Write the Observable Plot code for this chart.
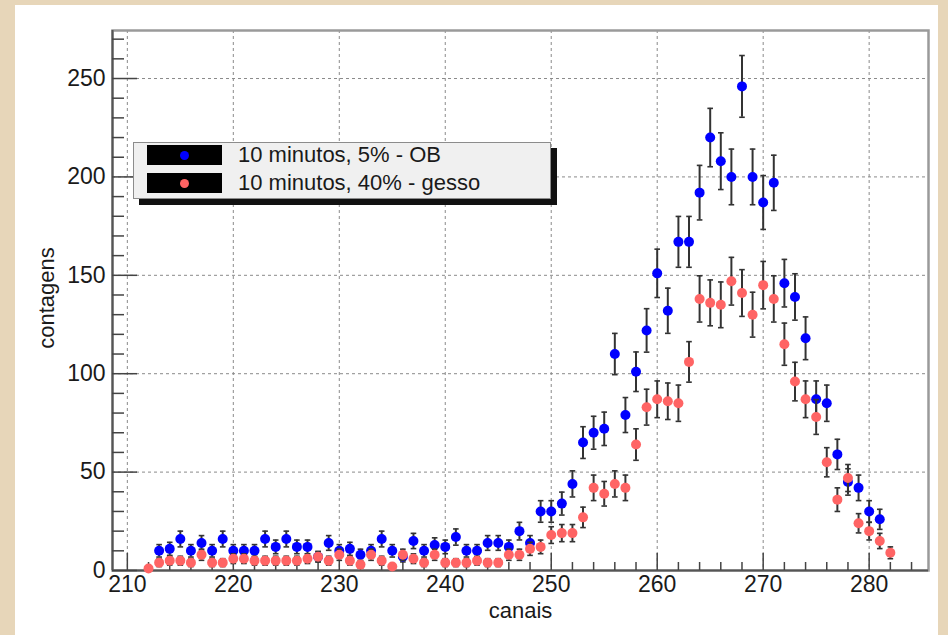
<!DOCTYPE html>
<html>
<head>
<meta charset="utf-8">
<script src="https://cdn.jsdelivr.net/npm/d3@7"></script>
<script src="https://cdn.jsdelivr.net/npm/@observablehq/plot@0.6"></script>
<style>
html, body { margin: 0; padding: 0; }
body { background: #e7d6b9; width: 948px; height: 635px; overflow: hidden; position: relative;
       font-family: "Liberation Sans", Arial, Helvetica, sans-serif; }
#panel { position: absolute; left: 15px; top: 5px; width: 923px; height: 630px; background: #fff; }
#legend { position: absolute; left: 133px; top: 142px; width: 416px; height: 55px;
          background: #f0f0f0; border: 1px solid #8c8c8c; box-shadow: 6px 6px 0 #111; }
.sw { position: absolute; left: 13px; width: 75px; height: 20px; background: #000; }
.sw span { position: absolute; left: 33px; top: 6px; width: 9px; height: 9px; border-radius: 50%; }
.lt { position: absolute; left: 104px; height: 20px; line-height: 20px; font-size: 22px; color: #1a1a1a; white-space: nowrap; }
#ytitle { position: absolute; left: 47px; top: 298px; transform: translate(-50%, -50%) rotate(-90deg);
          font-size: 22px; color: #1a1a1a; white-space: nowrap; line-height: 1; }
</style>
</head>
<body>
<div id="panel"></div>
<div id="legend"></div>
<div id="ytitle"></div>
<script>
// ---- data ----
const channels = [212,213,214,215,216,217,218,219,220,221,222,223,224,225,226,227,228,229,230,
  231,232,233,234,235,236,237,238,239,240,241,242,243,244,245,246,247,248,249,250,
  251,252,253,254,255,256,257,258,259,260,261,262,263,264,265,266,267,268,269,270,
  271,272,273,274,275,276,277,278,279,280,281,282];
const countsOB = [null,10,11,16,10,14,10,16,10,10,10,16,12,16,12,12,7,14,10,
  11,8,10,16,10,7,15,10,13,12,17,10,10,14,14,12,20,14,30,30,
  34,44,65,70,72,110,79,101,122,151,132,167,167,192,220,208,200,246,200,187,
  197,146,139,118,87,85,59,45,42,30,26,null];
const countsGesso = [1,4,5,5,4,8,4,4,6,6,5,5,5,5,5,6,7,5,8,
  5,3,8,5,2,8,6,4,8,4,4,4,5,4,4,8,8,11,12,18,
  19,19,27,42,39,44,42,64,83,87,86,85,106,138,136,135,147,141,130,145,
  138,115,96,87,78,55,36,47,24,20,15,9];
const seriesNames = ["10 minutos, 5% - OB", "10 minutos, 40% - gesso"];
const seriesColors = ["#0000ff", "#ff6464"];
const xTicksMajor = [210,220,230,240,250,260,270,280];
const xTicksMinor = [212,214,216,218,222,224,226,228,232,234,236,238,242,244,246,248,252,254,256,258,262,264,266,268,272,274,276,278,282,284];
const yTicksMajor = [0,50,100,150,200,250];
const yTicksMinor = [10,20,30,40,60,70,80,90,110,120,130,140,160,170,180,190,210,220,230,240,260,270];
const xDomain = [208.6, 285.6];
const yDomain = [0, 274.4];
const xTitle = "canais";
const yTitle = "contagens";

// ---- layout ----
const W = 923, H = 630, mL = 97, mT = 25, mR = 10, mB = 65;
const fw = W - mL - mR, fh = H - mT - mB;

function rows(counts) {
  return channels.map((c, i) => ({c, v: counts[i]})).filter(d => d.v != null)
    .map(d => ({...d, lo: d.v - Math.sqrt(d.v), hi: d.v + Math.sqrt(d.v)}));
}
const dataOB = rows(countsOB);
const dataGesso = rows(countsGesso);

const cap = {draw(ctx, size) { const w = Math.sqrt(size / Math.PI); ctx.moveTo(-w, 0); ctx.lineTo(w, 0); }};

function seriesMarks(data, color) {
  return [
    Plot.ruleX(data, {x: "c", y1: "lo", y2: "hi", stroke: "#333", strokeWidth: 2}),
    Plot.dot(data, {x: "c", y: "hi", symbol: cap, r: 2.8, stroke: "#333", strokeWidth: 1.6, fill: "none"}),
    Plot.dot(data, {x: "c", y: "lo", symbol: cap, r: 2.8, stroke: "#333", strokeWidth: 1.6, fill: "none"}),
    Plot.dot(data, {x: "c", y: "v", r: 5, fill: color, stroke: "none"})
  ];
}

const chart = Plot.plot({
  width: W, height: H,
  marginLeft: mL, marginTop: mT, marginRight: mR, marginBottom: mB,
  x: {domain: xDomain, axis: null},
  y: {domain: yDomain, axis: null},
  style: {background: "transparent", fontFamily: '"Liberation Sans", Arial, sans-serif', overflow: "visible"},
  marks: [
    Plot.ruleX(xTicksMajor, {x: d => d, stroke: "#8a8a8a", strokeWidth: 1, strokeDasharray: "3,3"}),
    Plot.ruleY(yTicksMajor.filter(d => d > 0), {y: d => d, stroke: "#8a8a8a", strokeWidth: 1, strokeDasharray: "3,3"}),
    Plot.frame({stroke: "#9a9a9a", strokeWidth: 2.5}),
    Plot.ruleY([yDomain[0]], {y: d => d, stroke: "#555", strokeWidth: 2}),
    Plot.ruleX([xDomain[0]], {x: d => d, stroke: "#555", strokeWidth: 2}),
    Plot.tickX(xTicksMajor, {x: d => d, insetTop: fh - 17, stroke: "#444", strokeWidth: 1.5}),
    Plot.tickX(xTicksMinor, {x: d => d, insetTop: fh - 8, stroke: "#444", strokeWidth: 1.5}),
    Plot.tickY(yTicksMajor, {y: d => d, insetRight: fw - 25, stroke: "#444", strokeWidth: 1.5}),
    Plot.tickY(yTicksMinor, {y: d => d, insetRight: fw - 12, stroke: "#444", strokeWidth: 1.5}),
    Plot.text(xTicksMajor, {x: d => d, text: d => String(d), frameAnchor: "bottom", lineAnchor: "top", dy: 5, fontSize: 23, fill: "#1a1a1a"}),
    Plot.text(yTicksMajor, {y: d => d, text: d => String(d), frameAnchor: "left", textAnchor: "end", dx: -7, fontSize: 23, fill: "#1a1a1a"}),
    Plot.text([xTitle], {text: d => d, frameAnchor: "bottom", lineAnchor: "middle", dy: 40, fontSize: 22, fill: "#1a1a1a"}),
    ...seriesMarks(dataOB, seriesColors[0]),
    ...seriesMarks(dataGesso, seriesColors[1])
  ]
});
document.getElementById("panel").appendChild(chart);
document.getElementById("ytitle").textContent = yTitle;

// legend
const legend = document.getElementById("legend");
seriesNames.forEach((name, i) => {
  const top = 2 + i * 28;
  const sw = document.createElement("div");
  sw.className = "sw"; sw.style.top = top + "px";
  const dot = document.createElement("span");
  dot.style.background = seriesColors[i];
  sw.appendChild(dot);
  legend.appendChild(sw);
  const t = document.createElement("div");
  t.className = "lt"; t.style.top = top + "px";
  t.textContent = name;
  legend.appendChild(t);
});
</script>
</body>
</html>
